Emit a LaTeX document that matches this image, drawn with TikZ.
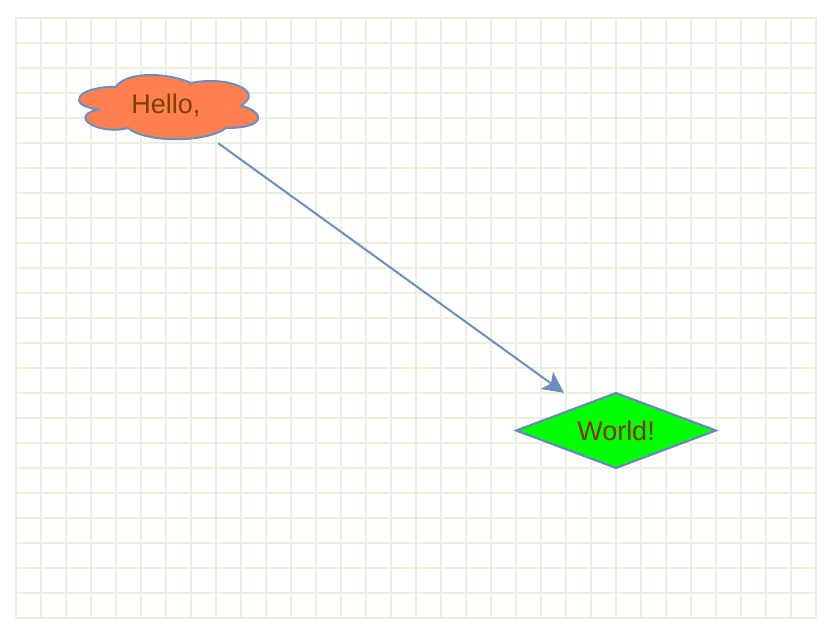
\documentclass[tikz,border=0pt]{standalone}
\usepackage{fontspec}
\setmainfont{Liberation Sans}
\usetikzlibrary{arrows.meta}
\definecolor{gridc}{HTML}{E8F0DE}
\definecolor{edgec}{HTML}{6C8EBF}
\definecolor{diamc}{HTML}{7080C8}
\definecolor{coral}{HTML}{FF7F50}
\definecolor{hellotxt}{HTML}{7F4000}
\definecolor{worldtxt}{HTML}{8A2E10}
\tikzset{
  gridline/.style={draw=gridc, line width=2.5pt},
  boxbase/.style={rectangle, minimum width=200pt, minimum height=75pt, inner sep=0pt,
    font=\fontsize{27}{30}\selectfont},
  cloudbox/.style={boxbase, text=hellotxt},
  diamondbox/.style={boxbase, text=worldtxt},
  cloudshape/.style={draw=edgec, line width=2pt, fill=coral},
  diamondshape/.style={draw=diamc, line width=2pt, fill=green},
  conn/.style={draw=edgec, line width=2pt, -{Stealth[length=21pt,width=21pt,inset=5pt]}}
}
\begin{document}
\begin{tikzpicture}[x=1pt,y=-1pt]
\useasboundingbox (0,0) rectangle (826,626);
\fill[white] (0,0) rectangle (826,626);
\foreach \i in {0,...,32} {\draw[gridline] (16+25*\i,18) -- (16+25*\i,618);}
\foreach \j in {0,...,24} {\draw[gridline] (16,18+25*\j) -- (816,18+25*\j);}
% cloud outline in its 200x75 box
\begin{scope}[shift={(66,68)}, x=200pt, y=-75pt]
  \draw[cloudshape]
    (0.25,0.25) .. controls (0.05,0.25) and (0,0.5) .. (0.16,0.55)
    .. controls (0,0.66) and (0.18,0.9) .. (0.31,0.8)
    .. controls (0.4,1) and (0.7,1) .. (0.8,0.8)
    .. controls (1,0.8) and (1,0.6) .. (0.875,0.5)
    .. controls (1,0.3) and (0.8,0.1) .. (0.625,0.2)
    .. controls (0.5,0.05) and (0.3,0.05) .. (0.25,0.25) -- cycle;
\end{scope}
% diamond outline in its 200x75 box
\begin{scope}[shift={(516,393)}, x=200pt, y=-75pt]
  \draw[diamondshape] (0.5,0) -- (1,0.5) -- (0.5,1) -- (0,0.5) -- cycle;
\end{scope}
\node[cloudbox] (hello) at (166,105.5) {Hello,};
\node[diamondbox] (world) at (616,430.5) {World!};
\draw[conn] (hello) -- (world);
\end{tikzpicture}
\end{document}
